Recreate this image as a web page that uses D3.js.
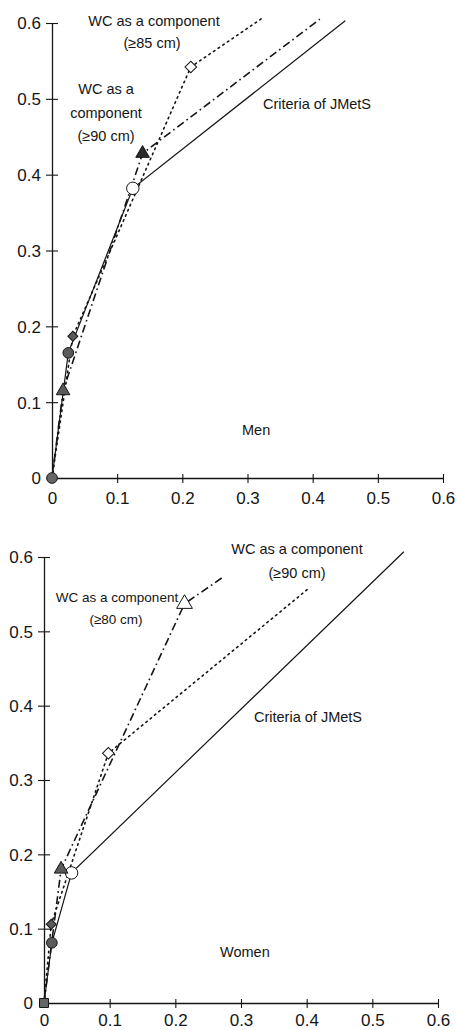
<!DOCTYPE html>
<html>
<head>
<meta charset="utf-8">
<script src="https://cdn.jsdelivr.net/npm/d3@7"></script>
<style>
  body { margin: 0; background: #fff; }
  svg { display: block; font-family: "Liberation Sans", Arial, Helvetica, sans-serif; }
</style>
</head>
<body>
<svg id="chart" width="457" height="1030"></svg>
<script>
// tick labels, shared by both panels
var xTicks = [0, 0.1, 0.2, 0.3, 0.4, 0.5, 0.6];
var yTicks = [0, 0.1, 0.2, 0.3, 0.4, 0.5, 0.6];

// Men
var menCriteriaX = [0, 0.025, 0.124, 0.450];
var menCriteriaY = [0, 0.165, 0.382, 0.603];
var menWc90X = [0, 0.017, 0.139, 0.411];
var menWc90Y = [0, 0.115, 0.428, 0.605];
var menWc85X = [0, 0.032, 0.213, 0.322];
var menWc85Y = [0, 0.187, 0.542, 0.606];

// Women
var womenCriteriaX = [0, 0.012, 0.042, 0.548];
var womenCriteriaY = [0, 0.081, 0.175, 0.607];
var womenWc80X = [0, 0.026, 0.214, 0.271];
var womenWc80Y = [0, 0.180, 0.537, 0.572];
var womenWc90X = [0, 0.011, 0.098, 0.402];
var womenWc90Y = [0, 0.106, 0.336, 0.557];

var svg = d3.select("#chart");

var ink = "#151515",
    grey = "#5a5a5a",
    dash = { solid: null, dashdot: "8,3.5,1.6,3.5", dotted: "1.6,4" };

var zip = (xs, ys) => xs.map((x, i) => [x, ys[i]]);

// marks: "f" filled, "o" open, "d" dark, "-" none
var panels = [
    {
        range: { x: [52, 443], y: [478, 23] },
        origin: "circle",
        xLabelY: 26,
        series: [
            { pts: zip(menCriteriaX, menCriteriaY), line: "solid", shape: "circle", marks: ["-", "f", "o", "-"] },
            { pts: zip(menWc90X, menWc90Y), line: "dashdot", shape: "triangle", marks: ["-", "f", "d", "-"] },
            { pts: zip(menWc85X, menWc85Y), line: "dotted", shape: "diamond", marks: ["-", "f", "o", "-"] }
        ],
        labels: [
            { t: "WC as a component", x: 154, y: 26, a: "middle", s: 14.5 },
            { t: "(\u226585 cm)", x: 152, y: 48, a: "middle", s: 14.5 },
            { t: "WC as a", x: 106, y: 94, a: "middle", s: 14.5 },
            { t: "component", x: 106, y: 118, a: "middle", s: 14.5 },
            { t: "(\u226590 cm)", x: 106, y: 141, a: "middle", s: 14.5 },
            { t: "Criteria of JMetS", x: 263, y: 109, a: "start", s: 14.5 },
            { t: "Men", x: 242, y: 435, a: "start", s: 14.5 }
        ]
    },
    {
        range: { x: [44, 438], y: [1003, 557] },
        origin: "square",
        xLabelY: 23,
        series: [
            { pts: zip(womenCriteriaX, womenCriteriaY), line: "solid", shape: "circle", marks: ["-", "f", "o", "-"] },
            { pts: zip(womenWc80X, womenWc80Y), line: "dashdot", shape: "triangle", marks: ["-", "f", "o", "-"] },
            { pts: zip(womenWc90X, womenWc90Y), line: "dotted", shape: "diamond", marks: ["-", "f", "o", "-"] }
        ],
        labels: [
            { t: "WC as a component", x: 117, y: 602, a: "middle", s: 13.5 },
            { t: "(\u226580 cm)", x: 116, y: 624, a: "middle", s: 13.5 },
            { t: "WC as a component", x: 297, y: 554, a: "middle", s: 14.5 },
            { t: "(\u226590 cm)", x: 297, y: 578, a: "middle", s: 14.5 },
            { t: "Criteria of JMetS", x: 254, y: 722, a: "start", s: 14.5 },
            { t: "Women", x: 220, y: 957, a: "start", s: 14.5 }
        ]
    }
];

// diamonds are squares turned by 45 degrees
var symbolFor = { circle: d3.symbolCircle, triangle: d3.symbolTriangle, diamond: d3.symbolSquare, square: d3.symbolSquare };
var sizeFor = { circle: 90, triangle: 80, diamond: 50, square: 80 };
var turnFor = { circle: 0, triangle: 0, diamond: 45, square: 0 };

var fmt = d => d === 0 ? "0" : d3.format(".1f")(d);

panels.forEach(p => {
    var x = d3.scaleLinear().domain([0, 0.6]).range(p.range.x);
    var y = d3.scaleLinear().domain([0, 0.6]).range(p.range.y);
    var g = svg.append("g");

    // axes
    var xa = g.append("g").attr("transform", "translate(0," + y(0) + ")")
        .call(d3.axisBottom(x).tickValues(xTicks).tickFormat(fmt).tickSize(5).tickSizeOuter(0));
    var ya = g.append("g").attr("transform", "translate(" + x(0) + ",0)")
        .call(d3.axisLeft(y).tickValues(yTicks).tickFormat(fmt).tickSize(6).tickSizeOuter(0));

    [xa, ya].forEach(a => {
        a.select(".domain").attr("stroke", ink).attr("stroke-width", 1.3);
        a.selectAll(".tick line").attr("stroke", ink).attr("stroke-width", 1.1);
        a.selectAll(".tick text").attr("fill", ink).attr("font-size", 17).attr("font-family", null);
    });
    xa.selectAll(".tick line").attr("y1", -4).attr("y2", 5);
    xa.selectAll(".tick text").attr("dy", null).attr("y", p.xLabelY);
    ya.selectAll(".tick line").attr("x1", 6).attr("x2", -6);
    ya.selectAll(".tick text").attr("x", -11).attr("dy", "0.35em");
    // origin labels sit outside the crossing
    ya.selectAll(".tick").filter(d => d === 0).select("line").remove();
    xa.selectAll(".tick").filter(d => d === 0).select("line").remove();

    var line = d3.line().x(d => x(d[0])).y(d => y(d[1]));

    p.series.forEach(s => {
        g.append("path")
            .attr("d", line(s.pts))
            .attr("fill", "none")
            .attr("stroke", ink)
            .attr("stroke-width", s.line === "solid" ? 1.2 : 1.6)
            .attr("stroke-linecap", s.line === "dotted" ? "round" : "butt")
            .attr("stroke-dasharray", dash[s.line]);
    });

    // origin marker
    g.append("path")
        .attr("d", d3.symbol(symbolFor[p.origin], sizeFor[p.origin])())
        .attr("transform", "translate(" + x(0) + "," + y(0) + ")")
        .attr("fill", "#666").attr("stroke", ink).attr("stroke-width", 1);

    p.series.forEach(s => {
        s.pts.forEach((d, i) => {
            var m = s.marks[i];
            if (m === "-") return;
            var sz = sizeFor[s.shape] * (m === "o" ? 1.35 : 1);
            g.append("path")
                .attr("d", d3.symbol(symbolFor[s.shape], sz)())
                .attr("transform", "translate(" + x(d[0]) + "," + y(d[1]) + ") rotate(" + turnFor[s.shape] + ")")
                .attr("fill", m === "o" ? "#fff" : m === "d" ? "#2a2a2a" : grey)
                .attr("stroke", ink)
                .attr("stroke-width", 1);
        });
    });

    g.selectAll("text.lbl")
        .data(p.labels)
        .enter().append("text")
        .attr("class", "lbl")
        .attr("x", d => d.x).attr("y", d => d.y)
        .attr("text-anchor", d => d.a)
        .attr("font-size", d => d.s)
        .attr("fill", ink)
        .text(d => d.t);
});
</script>
</body>
</html>
